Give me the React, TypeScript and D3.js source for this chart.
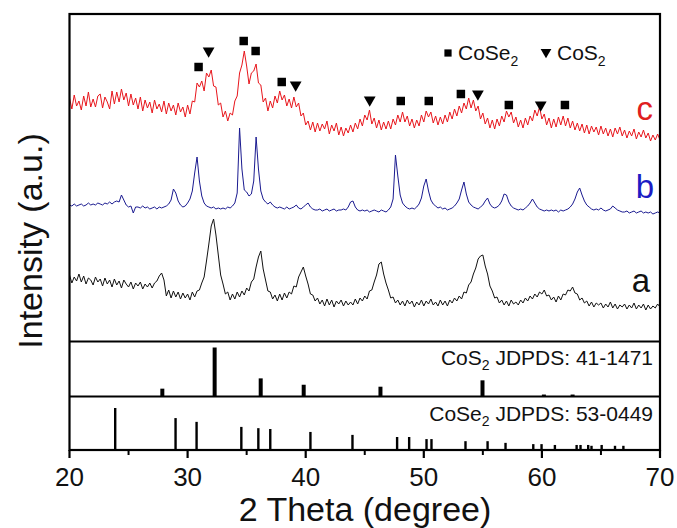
import React from "react";
import * as d3 from "d3";

// ---- data ----
const THETA_START = 20;
const THETA_STEP = 0.2;

// sample c (red), intensity in a.u.
const seriesC = [
243,232,246,235,240, 231,245,235,249,234, 242,234,245,247,233, 244,239,232,250,237, 249,239,252,241,248,
235,247,236,243,232, 244,230,241,233,239, 228,241,232,237,229, 240,227,238,230,236, 226,238,229,234,224,
236,227,240,239,258, 254,260,250,268,264, 271,255,254,236,238, 224,230,220,228,226, 240,245,268,276,290,
275,257,268,270,277, 258,256,239,243,230, 240,233,245,238,250, 241,246,235,242,233, 244,234,238,225,228,
216,220,211,219,209, 218,210,217,212,220, 207,216,210,218,206, 214,205,213,208,216, 209,218,212,222,215,
226,221,231,217,223, 213,221,211,219,212, 220,212,222,216,226, 219,229,219,225,215, 222,213,221,215,226,
219,230,224,229,218, 225,216,224,217,226, 219,229,222,232,225, 235,228,238,232,243, 233,241,230,235,222,
228,217,223,213,221, 212,222,215,225,219, 230,224,229,218,224, 214,221,213,223,216, 225,220,231,225,234,
222,227,216,223,213, 222,214,224,216,225, 215,223,213,220,211, 218,210,217,208,216, 207,215,209,214,206,
215,207,213,205,212, 204,213,207,214,205, 211,203,210,205,212, 202,209,204,211,203, 208,200,206,201,207,
201];

// sample b (blue)
const seriesB = [
136,135,137,135,136, 137,135,136,138,136, 137,136,138,137,136, 138,137,139,137,139, 140,139,146,141,136,
134,135,128,134,134, 133,135,133,134,132, 133,134,132,134,133, 134,135,137,141,152, 148,140,136,134,135,
138,142,150,168,184, 160,145,138,135,134, 133,134,132,133,132, 133,132,134,133,135, 138,148,213,172,151,
149,145,147,160,204, 172,150,142,139,137, 139,136,134,133,134, 133,132,134,132,133, 134,136,133,132,134,
136,138,134,132,131, 131,132,130,131,132, 130,131,132,130,131, 131,132,131,134,139, 140,134,131,130,131,
130,131,129,130,131, 130,129,131,130,129, 131,134,142,186,165, 146,138,135,133,132, 133,132,134,137,143,
155,162,150,141,137, 135,133,134,132,133, 131,132,133,135,138, 142,151,159,147,139, 136,134,133,132,134,
136,140,143,137,134, 133,134,136,140,147, 146,139,135,133,132, 131,132,131,133,135, 138,142,138,134,132,
131,130,131,130,131, 130,131,129,131,130, 131,132,134,137,142, 149,153,146,140,136, 134,132,131,132,131,
133,131,130,131,132, 135,133,131,130,129, 129,130,128,129,130, 128,129,130,128,129, 128,129,127,128,129,
128];

// sample a (black)
const seriesA = [
66,58,64,60,67, 59,65,57,63,61, 56,64,59,62,55, 63,57,61,54,62, 56,60,53,61,57,
54,59,52,58,55, 59,52,57,54,58, 53,58,60,65,68, 61,45,51,43,50, 44,49,42,48,43,
47,41,49,44,50, 51,58,64,80,97, 115,122,106,86,66, 57,47,49,41,47, 42,49,44,50,46,
53,50,59,62,74, 84,90,72,61,50, 49,42,46,40,47, 41,48,43,49,47, 55,54,64,69,74,
65,57,47,46,40, 43,37,41,35,42, 36,41,34,40,37, 41,35,40,36,39, 36,42,37,43,40,
45,42,50,51,59, 66,77,79,67,58, 51,43,44,38,41, 36,40,35,41,37, 40,34,39,36,41,
35,40,37,42,36, 39,35,41,36,40, 35,41,38,43,40, 45,42,49,48,56, 59,67,73,82,85,
86,75,67,55,50, 43,44,38,41,36, 40,35,41,37,39, 36,41,38,43,40, 45,42,47,44,49,
47,51,45,46,41, 44,39,45,41,47, 46,51,50,54,48, 47,41,43,38,40, 35,39,34,38,36,
38,33,37,34,39, 33,37,32,36,34, 37,32,36,33,38, 32,36,33,37,31, 36,32,35,33,37,
34];

// phase markers above curve c: [2theta, level]
const coSe2Marks: [number, number][] = [
  [30.93, 274], [34.75, 300], [35.76, 290], [37.97, 259], [48.05, 240],
  [50.42, 240], [53.14, 247], [57.2, 236], [61.95, 236],
];
const coS2Marks: [number, number][] = [
  [31.78, 290], [39.15, 256], [45.42, 241], [54.58, 247], [59.9, 236],
];

// reference patterns: [2theta, relative intensity]
const coS2Ref: [number, number][] = [
  [27.86, 16], [32.29, 100], [36.19, 37], [39.83, 24], [46.33, 20],
  [54.97, 33], [60.17, 4], [62.6, 4],
];
const coSe2Ref: [number, number][] = [
  [23.87, 100], [28.98, 76], [30.76, 67], [34.55, 55], [35.99, 52], [37.0, 50],
  [40.4, 43], [43.96, 36], [47.74, 31], [48.76, 31], [50.23, 26], [50.65, 26],
  [53.53, 21], [55.4, 21], [56.92, 17], [59.27, 14], [59.97, 14], [61.1, 12],
  [62.94, 12], [63.27, 12], [63.92, 12], [64.2, 10], [65.06, 12], [66.19, 10],
  [66.9, 10],
];

const majorTicks = [20, 30, 40, 50, 60, 70];
const minorTicks = [25, 35, 45, 55, 65];

export default function App() {
  const L = 69.5, R = 660, T = 14, B = 450;
  const div1 = 341.5, div2 = 396.5;

  const x = d3.scaleLinear().domain([20, 70]).range([L, R]);
  const y = d3.scaleLinear().domain([0, 327]).range([341, 14]);
  const yS = d3.scaleLinear().domain([0, 100]).range([div2, div2 - 49]);
  const ySe = d3.scaleLinear().domain([0, 100]).range([B, B - 42]);

  const line = d3
    .line<number>()
    .x((_, i) => x(THETA_START + i * THETA_STEP))
    .y((v) => y(v));

  const sq = d3.symbol(d3.symbolSquare, 72)();
  const tri = d3.symbol(d3.symbolTriangle, 60)();

  const font = "'Liberation Sans', Arial, Helvetica, sans-serif";

  return (
    <svg
      width={677}
      height={528}
      style={{ position: "absolute", left: 0, top: 0, background: "#fff" }}
      fontFamily={font}
    >
      <rect width={677} height={528} fill="#fff" />
      {/* curves */}
      <path d={line(seriesA) || ""} fill="none" stroke="#111" strokeWidth={1} />
      <path d={line(seriesB) || ""} fill="none" stroke="#1a1a90" strokeWidth={1} />
      <path d={line(seriesC) || ""} fill="none" stroke="#e8161c" strokeWidth={1} />

      {/* markers */}
      {coSe2Marks.map(([t, v], i) => (
        <path key={"s" + i} d={sq || ""} transform={`translate(${x(t)},${y(v)})`} fill="#000" />
      ))}
      {coS2Marks.map(([t, v], i) => (
        <path key={"t" + i} d={tri || ""} transform={`translate(${x(t)},${y(v)}) rotate(180)`} fill="#000" />
      ))}

      {/* legend */}
      <path d={d3.symbol(d3.symbolSquare, 52)() || ""} transform="translate(448,53)" fill="#000" />
      <text x={458} y={60} fontSize={21} fill="#111">
        CoSe<tspan fontSize={14} dy={6}>2</tspan>
      </text>
      <path d={d3.symbol(d3.symbolTriangle, 50)() || ""} transform="translate(546,52) rotate(180)" fill="#000" />
      <text x={557} y={60} fontSize={21} fill="#111">
        CoS<tspan fontSize={14} dy={6}>2</tspan>
      </text>

      {/* sample labels */}
      <text x={653} y={120} fontSize={33} fill="#e0201f" textAnchor="end">c</text>
      <text x={654} y={198} fontSize={33} fill="#1c1cc4" textAnchor="end">b</text>
      <text x={650} y={292} fontSize={33} fill="#111" textAnchor="end">a</text>

      {/* reference sticks */}
      {coS2Ref.map(([t, v], i) => (
        <line key={"cs" + i} x1={x(t)} x2={x(t)} y1={div2} y2={yS(v)} stroke="#000" strokeWidth={4} />
      ))}
      {coSe2Ref.map(([t, v], i) => (
        <line key={"cse" + i} x1={x(t)} x2={x(t)} y1={B} y2={ySe(v)} stroke="#000" strokeWidth={2.4} />
      ))}
      <text x={653} y={365} fontSize={21} fill="#111" textAnchor="end">
        CoS<tspan fontSize={14} dy={5}>2</tspan><tspan dy={-5}> JDPDS: 41-1471</tspan>
      </text>
      <text x={653} y={421} fontSize={21} fill="#111" textAnchor="end">
        CoSe<tspan fontSize={14} dy={5}>2</tspan><tspan dy={-5}> JDPDS: 53-0449</tspan>
      </text>

      {/* frame and dividers */}
      <rect x={L} y={T} width={R - L} height={B - T} fill="none" stroke="#000" strokeWidth={2.2} />
      <line x1={L} x2={R} y1={div1} y2={div1} stroke="#000" strokeWidth={2.2} />
      <line x1={L} x2={R} y1={div2} y2={div2} stroke="#000" strokeWidth={2.2} />

      {/* ticks */}
      {majorTicks.map((t) => (
        <g key={"M" + t}>
          <line x1={x(t)} x2={x(t)} y1={B} y2={B + 8} stroke="#000" strokeWidth={2.2} />
          <text x={x(t)} y={486} fontSize={26} textAnchor="middle" fill="#111">{t}</text>
        </g>
      ))}
      {minorTicks.map((t) => (
        <line key={"m" + t} x1={x(t)} x2={x(t)} y1={B} y2={B + 5} stroke="#000" strokeWidth={2} />
      ))}

      {/* axis titles */}
      <text x={365} y={521} fontSize={34} textAnchor="middle" fill="#111">2 Theta (degree)</text>
      <text transform="translate(42,241) rotate(-90)" fontSize={34} textAnchor="middle" fill="#111">
        Intensity (a.u.)
      </text>
    </svg>
  );
}
